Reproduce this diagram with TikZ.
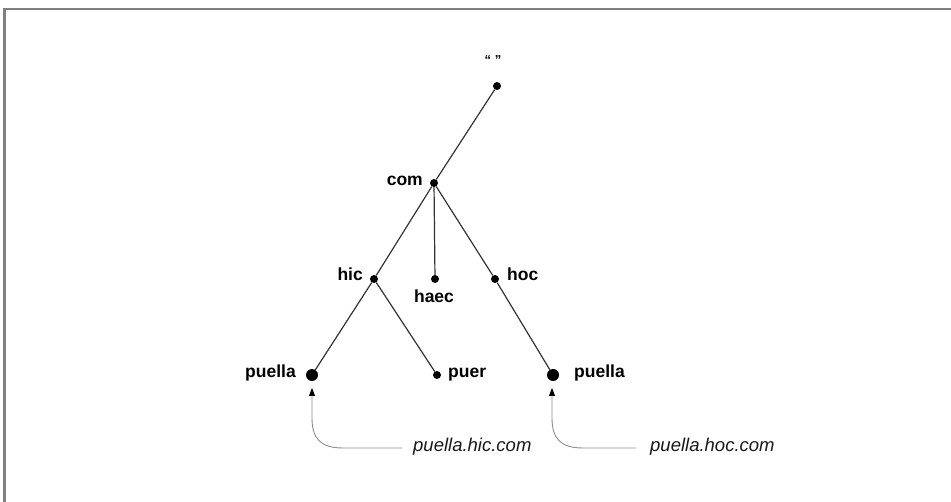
\documentclass[tikz,border=0pt]{standalone}
\usepackage{fontspec}
\setmainfont{Liberation Sans}
\usetikzlibrary{arrows.meta}
\begin{document}
\begin{tikzpicture}[x=1pt,y=-1pt,
  dot/.style={circle,fill=black,draw=none,inner sep=0pt,minimum size=8pt},
  bigdot/.style={circle,fill=black,draw=none,inner sep=0pt,minimum size=12pt},
  lbl/.style={inner sep=0pt,font=\fontsize{17.5}{20}\selectfont\bfseries,text=black},
  ital/.style={inner sep=0pt,font=\fontsize{18.5}{22}\selectfont\itshape,text=black!90},
  edge/.style={draw=black!80,line width=1.2pt},
  annot/.style={draw=black!45,line width=0.9pt,-{Triangle[length=8pt,width=6pt,fill=black,color=black]}},
  frame/.style={draw=black!50,line width=2.5pt}]
\useasboundingbox (0,0) rectangle (951,502);
\fill[white] (0,0) rectangle (951,502);
\draw[frame] (4.5,502) -- (4.5,9) -- (951,9);
% dots
\node[dot] (root) at (497,86) {};
\node[dot] (com) at (434,183) {};
\node[dot] (hic) at (374,279) {};
\node[dot] (haec) at (435,279) {};
\node[dot] (hoc) at (495,279) {};
\node[bigdot] (pL) at (312,375) {};
\node[dot] (puer) at (437,375) {};
\node[bigdot] (pR) at (553,375) {};
% labels
\node[lbl,font=\fontsize{13}{15}\selectfont\bfseries] (lroot) at (493,60) {“ ”};
\node[lbl,anchor=mid east] (lcom) at (423,183) {com};
\node[lbl,anchor=mid east] (lhic) at (363,278) {hic};
\node[lbl,anchor=mid] (lhaec) at (434,300) {haec};
\node[lbl,anchor=mid west] (lhoc) at (507,278) {hoc};
\node[lbl,anchor=mid east] (lpL) at (296,375) {puella};
\node[lbl,anchor=mid west] (lpuer) at (448,375) {puer};
\node[lbl,anchor=mid west] (lpR) at (574,375) {puella};
% edges
\draw[edge] (root) -- (com);
\draw[edge] (com) -- (hic);
\draw[edge] (com) -- (haec);
\draw[edge] (com) -- (hoc);
\draw[edge] (hic) -- (pL);
\draw[edge] (hic) -- (puer);
\draw[edge] (hoc) -- (pR);
% annotations
\node[ital,anchor=base west] (t1) at (413,452) {puella.hic.com};
\node[ital,anchor=base west] (t2) at (650,452) {puella.hoc.com};
\coordinate (a1) at (402,448);
\coordinate (a2) at (636,448);
\coordinate (tip1) at (312,388);
\coordinate (tip2) at (552,388);
\draw[annot] (a1) -- (343,448) .. controls (320,448) and (312,438) .. (312,418) -- (tip1);
\draw[annot] (a2) -- (583,448) .. controls (560,448) and (552,438) .. (552,418) -- (tip2);
\end{tikzpicture}
\end{document}
